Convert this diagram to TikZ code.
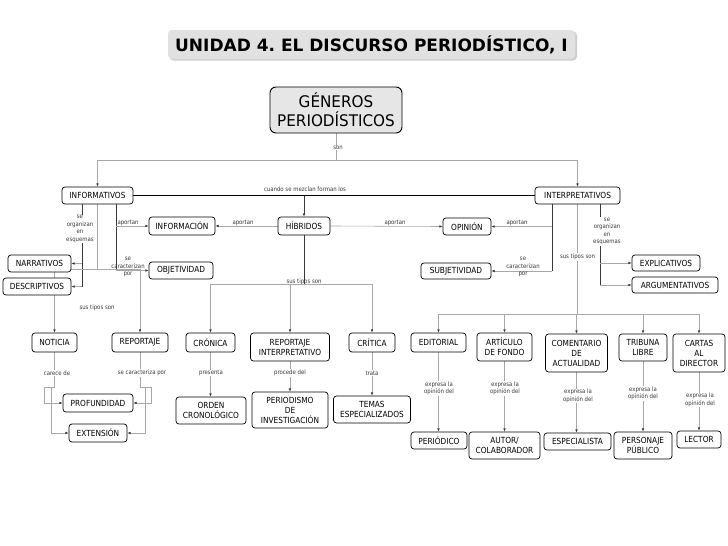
\documentclass[tikz,border=0pt]{standalone}
\usepackage{fontspec}
\setmainfont{DejaVu Sans}[FakeStretch=0.88]
\newfontfamily\titlefont{DejaVu Sans}
\newfontfamily\genfont{DejaVu Sans}[FakeStretch=0.95]
\usetikzlibrary{arrows.meta}
\pgfdeclarelayer{back}
\pgfdeclarelayer{edges}
\pgfsetlayers{back,edges,main}
\definecolor{lgrey}{HTML}{A8A8A8}
\definecolor{dgrey}{HTML}{3A3A3A}
\definecolor{tgrey}{HTML}{E1E1E1}
\definecolor{sgrey}{HTML}{CFCFCF}
\definecolor{ggrey}{HTML}{E6E6E6}
\tikzset{
  box/.style={draw=black, line width=0.7pt, rounded corners=3pt, fill=white, inner sep=0pt,
    align=center, font=\fontsize{8.4}{10}\selectfont, text=black},
  lbl/.style={inner sep=0.6pt, align=center, font=\fontsize{6.1}{7.4}\selectfont, text=dgrey},
  lblw/.style={lbl, fill=white},
  gline/.style={draw=lgrey, line width=0.6pt},
  dline/.style={draw=dgrey, line width=0.7pt},
  arr/.style={-{Latex[length=3.2pt,width=2.6pt,color=dgrey]}}
}
\begin{document}
\frenchspacing
\begin{tikzpicture}[x=1pt,y=-1pt]
\useasboundingbox (0,0) rectangle (728,546);
\begin{pgfonlayer}{back}
\fill[white] (0,0) rectangle (728,546);
\fill[sgrey, rounded corners=4pt] (169.5,31.5) rectangle (577,60.5);
\end{pgfonlayer}

% title
\node[fill=tgrey, rounded corners=4pt, minimum width=407pt, minimum height=29pt, inner sep=0pt,
  font=\titlefont\bfseries\fontsize{17}{20}\selectfont] (title) at (371.5,44.5) {UNIDAD 4. EL DISCURSO PERIODÍSTICO, I};

% main concept
\node[box, fill=ggrey, line width=0.9pt, rounded corners=6pt, minimum width=132pt, minimum height=46pt,
  font=\genfont\fontsize{16}{19}\selectfont] (generos) at (336,110) {GÉNEROS\\PERIODÍSTICOS};

% level 1
\node[box, minimum width=71pt, minimum height=17pt] (informativos) at (97.5,195.5) {INFORMATIVOS};
\node[box, minimum width=85pt, minimum height=17pt] (interpretativos) at (577.5,195.5) {INTERPRETATIVOS};
\node[box, minimum width=52pt, minimum height=18pt] (hibridos) at (304,226) {HÍBRIDOS};
\node[box, minimum width=66pt, minimum height=18pt] (informacion) at (182,226) {INFORMACIÓN};
\node[box, minimum width=48pt, minimum height=17pt] (opinion) at (467,226.5) {OPINIÓN};
\node[box, minimum width=63pt, minimum height=17pt] (narrativos) at (39.5,263.5) {NARRATIVOS};
\node[box, minimum width=68pt, minimum height=17pt] (descriptivos) at (37,286.5) {DESCRIPTIVOS};
\node[box, minimum width=64pt, minimum height=17pt] (objetividad) at (181,270.5) {OBJETIVIDAD};
\node[box, minimum width=70pt, minimum height=16pt] (subjetividad) at (456,271) {SUBJETIVIDAD};
\node[box, minimum width=68pt, minimum height=16pt] (explicativos) at (666,263) {EXPLICATIVOS};
\node[box, minimum width=86pt, minimum height=16pt] (argumentativos) at (675,285) {ARGUMENTATIVOS};

% level 2 left
\node[box, minimum width=45pt, minimum height=19pt] (noticia) at (54.5,342.5) {NOTICIA};
\node[box, minimum width=56pt, minimum height=19pt] (reportaje) at (140,342.5) {REPORTAJE};
\node[box, minimum width=49pt, minimum height=19pt] (cronica) at (210.5,342.5) {CRÓNICA};
\node[box, minimum width=79pt, minimum height=28pt] (repinterp) at (290,347) {REPORTAJE\\INTERPRETATIVO};
\node[box, minimum width=46pt, minimum height=19pt] (critica) at (372,342.5) {CRÍTICA};
\node[box, minimum width=70pt, minimum height=18pt] (profundidad) at (98,403) {PROFUNDIDAD};
\node[box, minimum width=58pt, minimum height=18pt] (extension) at (98,433) {EXTENSIÓN};
\node[box, minimum width=70pt, minimum height=27pt] (orden) at (211,410.5) {ORDEN\\CRONOLÓGICO};
\node[box, minimum width=76pt, minimum height=36pt] (periodismo) at (290,410) {PERIODISMO\\DE\\INVESTIGACIÓN};
\node[box, minimum width=77pt, minimum height=27pt] (temas) at (372,409.5) {TEMAS\\ESPECIALIZADOS};

% level 2 right
\node[box, minimum width=55pt, minimum height=19pt] (editorial) at (438.5,342.5) {EDITORIAL};
\node[box, minimum width=55pt, minimum height=28pt] (articulo) at (504.5,347) {ARTÍCULO\\DE FONDO};
\node[box, minimum width=62pt, minimum height=38pt] (comentario) at (576.5,353) {COMENTARIO\\DE\\ACTUALIDAD};
\node[box, minimum width=48pt, minimum height=27pt] (tribuna) at (643,347.5) {TRIBUNA\\LIBRE};
\node[box, minimum width=52pt, minimum height=38pt] (cartas) at (699,353) {CARTAS\\AL\\DIRECTOR};
\node[box, minimum width=56pt, minimum height=17pt] (periodico) at (439,440.5) {PERIÓDICO};
\node[box, minimum width=71pt, minimum height=27pt] (autor) at (504.5,445.5) {AUTOR/\\COLABORADOR};
\node[box, minimum width=67pt, minimum height=17pt] (especialista) at (577.5,441.5) {ESPECIALISTA};
\node[box, minimum width=58pt, minimum height=27pt] (personaje) at (643,445.5) {PERSONAJE\\PÚBLICO};
\node[box, minimum width=44pt, minimum height=17pt] (lector) at (699,439.5) {LECTOR};

% labels
\node[lblw] (lson) at (338,148) {son};
\node[lbl] (lmezcla) at (305,189) {cuando se mezclan forman los};
\node[lbl] (lap1) at (243,222.5) {aportan};
\node[lbl] (lap2) at (395,222.5) {aportan};
\node[lbl] (lap3) at (128,222.5) {aportan};
\node[lbl] (lap4) at (517,222.5) {aportan};
\node[lblw] (lesq1) at (80,229) {se\\organizan\\en\\esquemas};
\node[lblw] (lesq2) at (607,231.5) {se\\organizan\\en\\esquemas};
\node[lbl] (lcar1) at (128,267) {se\\caracterizan\\por};
\node[lbl] (lcar2) at (523,267) {se\\caracterizan\\por};
\node[lbl] (ltip1) at (97,307.5) {sus tipos son};
\node[lbl] (ltip2) at (304,282) {sus tipos son};
\node[lblw] (ltip3) at (577.5,257) {sus tipos son};
\node[lblw] (lcarece) at (57,373) {carece de};
\node[lblw] (lcarac) at (142,373) {se caracteriza por};
\node[lblw] (lpres) at (211,373) {presenta};
\node[lblw] (lproc) at (290,373) {procede del};
\node[lblw] (ltrata) at (372,373) {trata};
\node[lblw] (lex1) at (439,388.5) {expresa la\\opinión del};
\node[lblw] (lex2) at (505,388.5) {expresa la\\opinión del};
\node[lblw] (lex3) at (578,396) {expresa la\\opinión del};
\node[lblw] (lex4) at (643,393.5) {expresa la\\opinión del};
\node[lblw] (lex5) at (700,400) {expresa la\\opinión del};

\begin{pgfonlayer}{edges}
% top
\coordinate (gj) at (336,160);
\draw[gline] (generos.south) -- (gj);
\draw[gline,arr] (gj) -| (informativos.north);
\draw[gline,arr] (gj) -| (interpretativos.north);
\draw[line width=1.1pt] (informativos.east) -- (interpretativos.west);
\draw[dline,arr] (hibridos.north |- informativos.east) -- (hibridos.north);
\draw[gline,arr] (hibridos.west) -- (informacion.east);
\draw[gline,arr] (hibridos.east) -- (opinion.west);

% informativos branches
\coordinate (ia) at (82,204);
\draw[dline] (ia) -- (ia |- descriptivos.east);
\draw[gline,arr] (ia |- narrativos.east) -- (narrativos.east);
\draw[gline,arr] (ia |- descriptivos.east) -- (descriptivos.east);
\coordinate (ib) at (116,204);
\draw[dline] (ib) -- (ib |- objetividad.west);
\draw[gline,arr] (ib |- informacion.west) -- (informacion.west);
\draw[gline,arr] (ib |- objetividad.west) -- (objetividad.west);
\coordinate (t1) at (97.5,269);
\draw[gline] (informativos.south) -- (t1);
\draw[gline] (noticia.north |- t1) -- (reportaje.north |- t1);
\draw[gline,arr] (noticia.north |- t1) -- (noticia.north);
\draw[gline,arr] (reportaje.north |- t1) -- (reportaje.north);

% noticia / reportaje
\draw[gline,arr] (noticia.south) -- (54.5,387) -- (44,387) |- (profundidad.west);
\draw[gline,arr] (51,387) |- (extension.west);
\draw[gline,arr] (reportaje.south) -- (140,387) -- (151,387) |- (profundidad.east);
\draw[gline,arr] (145,387) |- (extension.east);

% hibridos types
\coordinate (h1) at (304,284);
\draw[dline] (hibridos.south) -- (h1);
\draw[gline] (cronica.north |- h1) -- (critica.north |- h1);
\draw[gline,arr] (cronica.north |- h1) -- (cronica.north);
\draw[gline,arr] (repinterp.north |- h1) -- (repinterp.north);
\draw[gline,arr] (critica.north |- h1) -- (critica.north);
\draw[gline,arr] (cronica.south) -- (cronica.south |- orden.north);
\draw[gline,arr] (repinterp.south) -- (repinterp.south |- periodismo.north);
\draw[gline,arr] (critica.south) -- (critica.south |- temas.north);

% interpretativos branches
\coordinate (ic) at (552,204);
\draw[dline] (ic) -- (ic |- subjetividad.east);
\draw[gline,arr] (ic |- opinion.east) -- (opinion.east);
\draw[gline,arr] (ic |- subjetividad.east) -- (subjetividad.east);
\coordinate (id) at (600,204);
\draw[dline] (id) -- (id |- argumentativos.west);
\draw[gline,arr] (id |- explicativos.west) -- (explicativos.west);
\draw[gline,arr] (id |- argumentativos.west) -- (argumentativos.west);
\coordinate (r1) at (577.5,314);
\draw[gline] (interpretativos.south) -- (r1);
\draw[gline] (editorial.north |- r1) -- (cartas.north |- r1);
\foreach \n in {editorial,articulo,comentario,tribuna,cartas}
  \draw[gline,arr] (\n.north |- r1) -- (\n.north);
\draw[gline,arr] (editorial.south) -- (editorial.south |- periodico.north);
\draw[gline,arr] (articulo.south) -- (articulo.south |- autor.north);
\draw[gline,arr] (comentario.south) -- (comentario.south |- especialista.north);
\draw[gline,arr] (tribuna.south) -- (tribuna.south |- personaje.north);
\draw[gline,arr] (cartas.south) -- (cartas.south |- lector.north);
\end{pgfonlayer}
\end{tikzpicture}
\end{document}
